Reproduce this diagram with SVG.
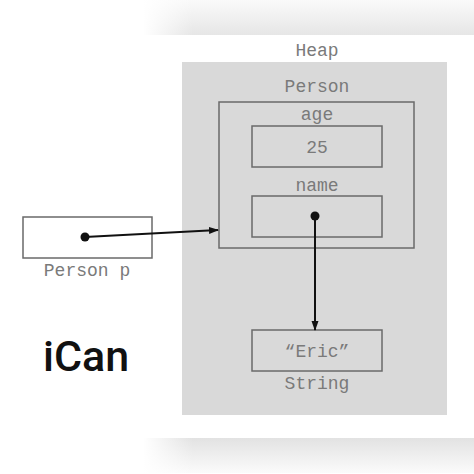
<svg xmlns="http://www.w3.org/2000/svg" width="474" height="474" viewBox="0 0 474 474">
<defs>
<linearGradient id="topBand" x1="0" y1="0" x2="0" y2="1">
<stop offset="0" stop-color="#fafafa"/>
<stop offset="1" stop-color="#e6e6e6"/>
</linearGradient>
<linearGradient id="botBand" x1="0" y1="0" x2="0" y2="1">
<stop offset="0" stop-color="#e2e2e2"/>
<stop offset="1" stop-color="#fbfbfb"/>
</linearGradient>
<linearGradient id="fadeL" x1="0" y1="0" x2="1" y2="0">
<stop offset="0" stop-color="#fff" stop-opacity="1"/>
<stop offset="1" stop-color="#fff" stop-opacity="0"/>
</linearGradient>
<marker id="arr" markerWidth="10" markerHeight="10" refX="9" refY="5" orient="auto" markerUnits="userSpaceOnUse">
<path d="M0,1.5 L10,5 L0,8.5 Z" fill="#111"/>
</marker>
<style>
.mono{font-family:"Liberation Mono","Courier New",monospace;font-size:18px;fill:#7a7a7a;text-anchor:middle}
.box{fill:none;stroke:#6a6a6a;stroke-width:1.5}
.link{stroke:#111;stroke-width:2;fill:none}
</style>
</defs>
<rect width="474" height="474" fill="#fff"/>
<rect x="143" y="0" width="331" height="35" fill="url(#topBand)"/>
<rect x="143" y="0" width="50" height="35" fill="url(#fadeL)"/>
<rect x="143" y="438" width="331" height="35" fill="url(#botBand)"/>
<rect x="143" y="438" width="50" height="35" fill="url(#fadeL)"/>
<g id="heap">
<rect x="182" y="62" width="265" height="353" fill="#d9d9d9"/>
<text class="mono" x="317" y="56">Heap</text>
</g>
<g id="person">
<rect class="box" x="219" y="102" width="195" height="146"/>
<text class="mono" x="317" y="92">Person</text>
</g>
<g id="age">
<rect class="box" x="252" y="126" width="130" height="41"/>
<text class="mono" x="317" y="120">age</text>
<text class="mono" x="317" y="153">25</text>
</g>
<g id="name">
<rect class="box" x="252" y="196" width="130" height="41"/>
<text class="mono" x="317" y="191">name</text>
</g>
<g id="string">
<rect class="box" x="252" y="330" width="130" height="41"/>
<text class="mono" x="317" y="357">“Eric”</text>
<text class="mono" x="317" y="389">String</text>
</g>
<g id="personP">
<rect class="box" x="23" y="217" width="129" height="41"/>
<text class="mono" x="87" y="276">Person p</text>
</g>
<g id="connectors">
<circle cx="85" cy="237" r="4.5" fill="#111"/>
<line class="link" x1="85" y1="237" x2="218" y2="230" marker-end="url(#arr)"/>
<circle cx="315" cy="216" r="4.5" fill="#111"/>
<line class="link" x1="315" y1="216" x2="315" y2="330" marker-end="url(#arr)"/>
</g>
<text x="43" y="371" font-family="Roboto, sans-serif" font-weight="500" font-size="43" fill="#111">iCan</text>
</svg>
